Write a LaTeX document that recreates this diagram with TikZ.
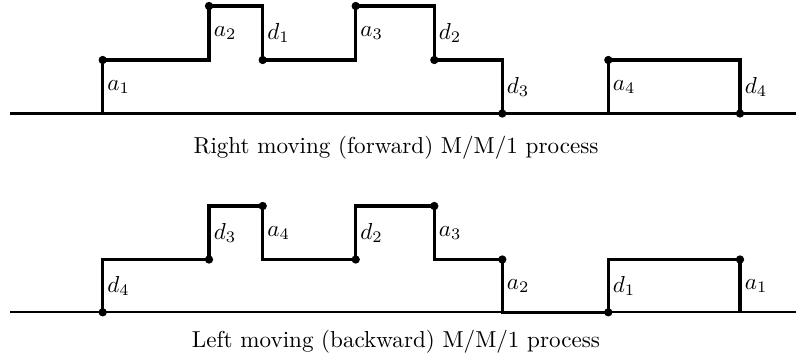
\documentclass[tikz,border=0pt]{standalone}
\begin{document}
\begin{tikzpicture}[x=0.433pt,y=-0.433pt,
  steppath/.style={line width=1.5pt, line join=miter},
  base/.style={line width=0.95pt},
  dot/.style={circle,fill,inner sep=0pt,minimum size=3.6pt},
  lab/.style={anchor=west,inner sep=1.5pt}]
\useasboundingbox (0,0) rectangle (796,362);
% ---------- top: forward process ----------
\coordinate (tL) at (10,113.5);
\coordinate (tR) at (796,113.5);
\draw[base] (tL) -- (tR);
\coordinate (ta1b) at (102.7,113.5);
\coordinate (ta1) at (102.7,60);
\coordinate (ta2b) at (209,60);
\coordinate (ta2) at (209,6);
\coordinate (td1t) at (262.7,6);
\coordinate (td1) at (262.7,60);
\coordinate (ta3b) at (355.7,60);
\coordinate (ta3) at (355.7,6);
\coordinate (td2t) at (434.3,6);
\coordinate (td2) at (434.3,60);
\coordinate (td3t) at (502.3,60);
\coordinate (td3) at (502.3,113.5);
\coordinate (ta4b) at (608.3,113.5);
\coordinate (ta4) at (608.3,60);
\coordinate (td4t) at (740,60);
\coordinate (td4) at (740,113.5);
\draw[steppath] (ta1b) -- (ta1) -- (ta2b) -- (ta2) -- (td1t) -- (td1) -- (ta3b) -- (ta3)
  -- (td2t) -- (td2) -- (td3t) -- (td3) -- (ta4b) -- (ta4) -- (td4t) -- (td4);
\foreach \p in {ta1,ta2,td1,ta3,td2,td3,ta4,td4} \node[dot] at (\p) {};
\node[lab] (la1) at (103.5,87) {$a_1$};
\node[lab] (la2) at (210,33) {$a_2$};
\node[lab] (ld1) at (263.5,33) {$d_1$};
\node[lab] (la3) at (356.5,33) {$a_3$};
\node[lab] (ld2) at (435,33) {$d_2$};
\node[lab] (ld3) at (503,87) {$d_3$};
\node[lab] (la4) at (609,87) {$a_4$};
\node[lab] (ld4) at (741,87) {$d_4$};
\node (cap1) at (396,148) {Right moving (forward) M/M/1 process};
% ---------- bottom: backward process ----------
\coordinate (bL) at (10,312.3);
\coordinate (bR) at (796,312.3);
\draw[base] (bL) -- (bR);
\coordinate (bd4) at (102.7,312.3);
\coordinate (bd4t) at (102.7,259.5);
\coordinate (bd3) at (209,259.5);
\coordinate (bd3t) at (209,206);
\coordinate (ba4) at (262.7,206);
\coordinate (ba4b) at (262.7,259.5);
\coordinate (bd2) at (355.7,259.5);
\coordinate (bd2t) at (355.7,206);
\coordinate (ba3) at (434.3,206);
\coordinate (ba3b) at (434.3,259.5);
\coordinate (ba2) at (502.3,259.5);
\coordinate (ba2b) at (502.3,312.3);
\coordinate (bd1) at (608.3,312.3);
\coordinate (bd1t) at (608.3,259.5);
\coordinate (ba1) at (740,259.5);
\coordinate (ba1b) at (740,312.3);
\draw[steppath] (bd4) -- (bd4t) -- (bd3) -- (bd3t) -- (ba4) -- (ba4b) -- (bd2) -- (bd2t)
  -- (ba3) -- (ba3b) -- (ba2) -- (ba2b) -- (bd1) -- (bd1t) -- (ba1) -- (ba1b);
\foreach \p in {bd4,bd3,ba4,bd2,ba3,ba2,bd1,ba1} \node[dot] at (\p) {};
\node[lab] (ld4b) at (103.5,286) {$d_4$};
\node[lab] (ld3b) at (210,233) {$d_3$};
\node[lab] (la4b) at (263.5,233) {$a_4$};
\node[lab] (ld2b) at (356.5,233) {$d_2$};
\node[lab] (la3b) at (435,233) {$a_3$};
\node[lab] (la2b) at (503,286) {$a_2$};
\node[lab] (ld1b) at (609,286) {$d_1$};
\node[lab] (la1b) at (741,286) {$a_1$};
\node (cap2) at (396,342) {Left moving (backward) M/M/1 process};
\end{tikzpicture}
\end{document}
